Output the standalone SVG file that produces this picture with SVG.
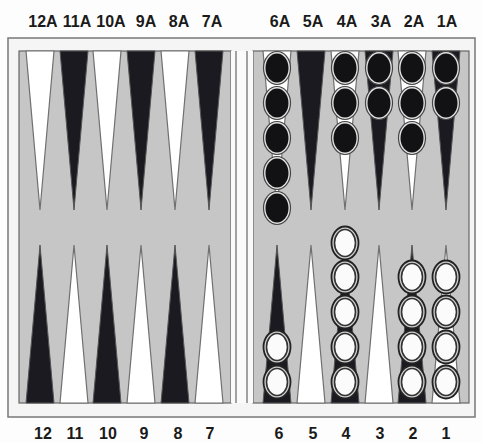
<svg xmlns="http://www.w3.org/2000/svg" width="482" height="443" viewBox="0 0 482 443">
<defs>
<style>
.lbl{font-family:"Liberation Sans",Arial,sans-serif;font-weight:bold;font-size:16px;fill:#1a1a1a;text-anchor:middle}
.board{fill:#c6c6c6;stroke:#666;stroke-width:1.2}
.dk{fill:#1b1a20;stroke:#555;stroke-width:1}
.wt{fill:#ffffff;stroke:#707070;stroke-width:1.2}
.bo{fill:#e2e2e2;stroke:#444;stroke-width:1.2}
.bi{fill:#121114}
.wo{fill:#d0d0d0;stroke:#222;stroke-width:1.8}
.wi{fill:#fbfbfb;stroke:#333;stroke-width:1.6}
</style>
<g id="bk"><ellipse class="bo" rx="13.5" ry="16.5"/><ellipse class="bi" rx="11.5" ry="14.5"/></g>
<g id="wh"><ellipse class="wo" rx="13.5" ry="16.5"/><ellipse class="wi" rx="10.5" ry="13.5"/></g>
</defs>
<rect width="482" height="443" fill="#fdfdfd"/>
<g id="frame">
<rect x="8" y="38" width="467" height="379" fill="#f5f5f5" stroke="#777" stroke-width="1.5"/>
<rect class="board" x="19" y="51" width="212" height="352"/>
<rect class="board" x="253" y="51" width="216" height="352"/>
<rect x="231" y="51" width="22" height="352" fill="#fafafa"/>
<line x1="236" y1="51" x2="236" y2="403" stroke="#666" stroke-width="1.2"/>
<line x1="247" y1="51" x2="247" y2="403" stroke="#666" stroke-width="1.2"/>
</g>
<g id="points-top">
<polygon class="wt" points="26,51 54,51 40,210"/>
<polygon class="dk" points="60,51 88,51 74,210"/>
<polygon class="wt" points="93,51 121,51 107,210"/>
<polygon class="dk" points="127,51 155,51 141,210"/>
<polygon class="wt" points="161,51 189,51 175,210"/>
<polygon class="dk" points="195,51 223,51 209,210"/>
<polygon class="wt" points="263,51 291,51 277,210"/>
<polygon class="dk" points="297,51 325,51 311,210"/>
<polygon class="wt" points="331,51 359,51 345,210"/>
<polygon class="dk" points="365,51 393,51 379,210"/>
<polygon class="wt" points="398,51 426,51 412,210"/>
<polygon class="dk" points="432,51 460,51 446,210"/>
</g>
<g id="points-bottom">
<polygon class="dk" points="26,403 54,403 40,245"/>
<polygon class="wt" points="60,403 88,403 74,245"/>
<polygon class="dk" points="93,403 121,403 107,245"/>
<polygon class="wt" points="127,403 155,403 141,245"/>
<polygon class="dk" points="161,403 189,403 175,245"/>
<polygon class="wt" points="195,403 223,403 209,245"/>
<polygon class="dk" points="263,403 291,403 277,245"/>
<polygon class="wt" points="297,403 325,403 311,245"/>
<polygon class="dk" points="331,403 359,403 345,245"/>
<polygon class="wt" points="365,403 393,403 379,245"/>
<polygon class="dk" points="398,403 426,403 412,245"/>
<polygon class="wt" points="432,403 460,403 446,245"/>
</g>
<g id="checkers-black">
<use href="#bk" x="277" y="68"/><use href="#bk" x="277" y="103"/><use href="#bk" x="277" y="138"/><use href="#bk" x="277" y="173"/><use href="#bk" x="277" y="208"/>
<use href="#bk" x="345" y="68"/><use href="#bk" x="345" y="103"/><use href="#bk" x="345" y="138"/>
<use href="#bk" x="379" y="68"/><use href="#bk" x="379" y="103"/>
<use href="#bk" x="412" y="68"/><use href="#bk" x="412" y="103"/><use href="#bk" x="412" y="138"/>
<use href="#bk" x="446" y="68"/><use href="#bk" x="446" y="103"/>
</g>
<g id="checkers-white">
<use href="#wh" x="277" y="347"/><use href="#wh" x="277" y="382"/>
<use href="#wh" x="345" y="243"/><use href="#wh" x="345" y="277"/><use href="#wh" x="345" y="312"/><use href="#wh" x="345" y="347"/><use href="#wh" x="345" y="382"/>
<use href="#wh" x="412" y="277"/><use href="#wh" x="412" y="312"/><use href="#wh" x="412" y="347"/><use href="#wh" x="412" y="382"/>
<use href="#wh" x="446" y="277"/><use href="#wh" x="446" y="312"/><use href="#wh" x="446" y="347"/><use href="#wh" x="446" y="382"/>
</g>
<g id="labels-top">
<text class="lbl" x="43" y="27">12A</text>
<text class="lbl" x="77" y="27">11A</text>
<text class="lbl" x="111" y="27">10A</text>
<text class="lbl" x="146" y="27">9A</text>
<text class="lbl" x="179" y="27">8A</text>
<text class="lbl" x="212" y="27">7A</text>
<text class="lbl" x="280" y="27">6A</text>
<text class="lbl" x="313" y="27">5A</text>
<text class="lbl" x="347" y="27">4A</text>
<text class="lbl" x="381" y="27">3A</text>
<text class="lbl" x="414" y="27">2A</text>
<text class="lbl" x="447" y="27">1A</text>
</g>
<g id="labels-bottom">
<text class="lbl" x="43" y="439">12</text>
<text class="lbl" x="75" y="439">11</text>
<text class="lbl" x="108" y="439">10</text>
<text class="lbl" x="144" y="439">9</text>
<text class="lbl" x="178" y="439">8</text>
<text class="lbl" x="210" y="439">7</text>
<text class="lbl" x="279" y="439">6</text>
<text class="lbl" x="313" y="439">5</text>
<text class="lbl" x="346" y="439">4</text>
<text class="lbl" x="380" y="439">3</text>
<text class="lbl" x="413" y="439">2</text>
<text class="lbl" x="446" y="439">1</text>
</g>
</svg>
